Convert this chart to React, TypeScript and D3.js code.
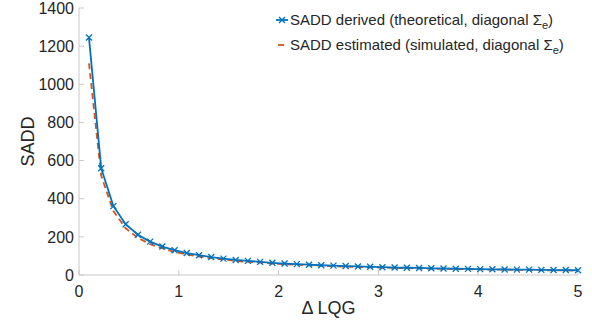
import React, { useEffect } from 'react';
import * as d3 from 'd3';

// --- DATA ---
const deltaLQG = [
  0.1, 0.2225, 0.345, 0.4675, 0.59, 0.7125, 0.835, 0.9575, 1.08, 1.2025,
  1.325, 1.4475, 1.57, 1.6925, 1.815, 1.9375, 2.06, 2.1825, 2.305, 2.4275,
  2.55, 2.6725, 2.795, 2.9175, 3.04, 3.1625, 3.285, 3.4075, 3.53, 3.6525,
  3.775, 3.8975, 4.02, 4.1425, 4.265, 4.3875, 4.51, 4.6325, 4.755, 4.8775, 5.0,
];

// SADD derived (theoretical)
const saddDerived = [
  1245, 560, 361, 266, 211, 175, 149, 130, 115, 104,
  94, 86, 79, 74, 69, 64, 60, 57, 54, 51,
  49, 47, 45, 43, 41, 39, 38, 37, 35, 34,
  33, 32, 31, 30, 29, 28, 28, 27, 26, 26, 25,
];

// SADD estimated (simulated)
const saddEstimated = [
  1110, 520, 335, 245, 195, 162, 139, 121, 108, 97,
  88, 81, 74, 69, 65, 60, 57, 54, 51, 48,
  46, 44, 42, 40, 39, 37, 36, 35, 33, 32,
  31, 30, 29, 28, 28, 27, 26, 25, 25, 24, 23,
];

const xTicks = [0, 1, 2, 3, 4, 5];
const yTicks = [0, 200, 400, 600, 800, 1000, 1200, 1400];

const WIDTH = 592;
const HEIGHT = 325;
const margin = { top: 8, right: 14, bottom: 50, left: 79 };

const BLUE = '#0072BD';
const ORANGE = '#D95319';
const AXIS = '#c8c8c8';
const TEXT = '#262626';
const FONT = '"Liberation Sans", Arial, Helvetica, sans-serif';

export default function App() {
  useEffect(() => {
    document.body.style.margin = '0';
  }, []);

  const x = d3.scaleLinear().domain([0, 5]).range([margin.left, WIDTH - margin.right]);
  const y = d3.scaleLinear().domain([0, 1400]).range([HEIGHT - margin.bottom, margin.top]);

  const line = d3.line<number>()
    .x((_, i) => x(deltaLQG[i]))
    .y(d => y(d));

  const x0 = x(0);
  const y0 = y(0);
  const ms = 3; // marker half-size

  const cross = (cx: number, cy: number, key: string | number) => (
    <path key={key}
      d={`M${cx - ms},${cy - ms}L${cx + ms},${cy + ms}M${cx - ms},${cy + ms}L${cx + ms},${cy - ms}`}
      stroke={BLUE} strokeWidth={1.3} fill="none" />
  );

  return (
    <svg width={WIDTH} height={HEIGHT} style={{ display: 'block', background: '#fff' }} fontFamily={FONT}>
      {/* axes */}
      <line x1={x0} x2={x(5)} y1={y0} y2={y0} stroke={AXIS} />
      <line x1={x0} x2={x0} y1={y0} y2={y(1400)} stroke={AXIS} />
      {xTicks.map(t => (
        <g key={'xt' + t}>
          <line x1={x(t)} x2={x(t)} y1={y0} y2={y0 - 5} stroke={AXIS} />
          <text x={x(t)} y={y0 + 22} textAnchor="middle" fontSize={16} fill={TEXT}>{t}</text>
        </g>
      ))}
      {yTicks.map(t => (
        <g key={'yt' + t}>
          <line x1={x0} x2={x0 + 5} y1={y(t)} y2={y(t)} stroke={AXIS} />
          <text x={x0 - 5} y={y(t)} dy="0.36em" textAnchor="end" fontSize={16} fill={TEXT}>{t}</text>
        </g>
      ))}

      {/* axis labels */}
      <text x={(x0 + x(5)) / 2} y={HEIGHT - 11} textAnchor="middle" fontSize={18} fill={TEXT}>Δ LQG</text>
      <text transform={`translate(34,${(y0 + y(1400)) / 2}) rotate(-90)`} textAnchor="middle" fontSize={18} fill={TEXT}>SADD</text>

      {/* series */}
      <path d={line(saddEstimated) || ''} fill="none" stroke={ORANGE} strokeWidth={1.8} strokeDasharray="6,4" />
      <path d={line(saddDerived) || ''} fill="none" stroke={BLUE} strokeWidth={1.8} />
      {saddDerived.map((v, i) => cross(x(deltaLQG[i]), y(v), i))}

      {/* legend */}
      <g>
        <line x1={276} x2={288} y1={20} y2={20} stroke={BLUE} strokeWidth={1.8} />
        {cross(282, 20, 'lg')}
        <text x={290} y={25} fontSize={15} fill={TEXT}>
          SADD derived (theoretical, diagonal Σ<tspan fontSize={11} dy={4}>e</tspan><tspan dy={-4}>)</tspan>
        </text>
        <line x1={278} x2={284} y1={45} y2={45} stroke={ORANGE} strokeWidth={1.8} />
        <text x={290} y={50} fontSize={15} fill={TEXT}>
          SADD estimated (simulated, diagonal Σ<tspan fontSize={11} dy={4}>e</tspan><tspan dy={-4}>)</tspan>
        </text>
      </g>
    </svg>
  );
}
